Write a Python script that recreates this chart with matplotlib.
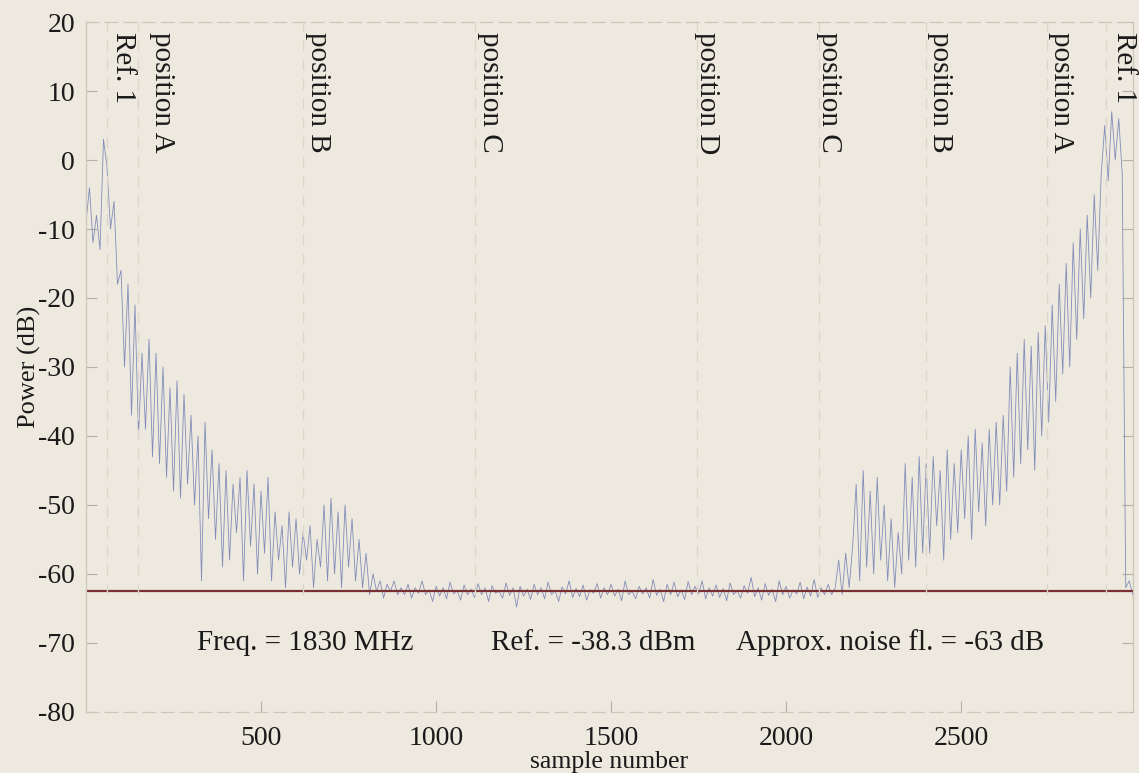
import numpy as np
import matplotlib
matplotlib.use("Agg")
import matplotlib.pyplot as plt

# ---------------- data ----------------
sample_step = 10  # samples between successive readings
power_db = [
    # 0 - 90
    -9, -4, -12, -8, -13, 3, -1, -10, -6, -18,
    # 100 - 190
    -16, -30, -18, -37, -21, -40, -28, -39, -26, -43,
    # 200 - 290
    -28, -44, -30, -46, -33, -48, -32, -49, -34, -47,
    # 300 - 390
    -37, -50, -40, -61, -38, -52, -42, -55, -44, -59,
    # 400 - 490
    -45, -58, -47, -54, -46, -61, -45, -56, -47, -60,
    # 500 - 590
    -48, -57, -46, -61, -51, -58, -53, -62, -51, -59,
    # 600 - 690
    -52, -60, -54, -58, -53, -62, -55, -59, -50, -61,
    # 700 - 790
    -49, -60, -51, -62, -50, -59, -52, -61, -55, -62,
    # 800 - 890
    -57, -63, -60, -62.5, -61, -63.5, -61.5, -62.5, -61, -63,
    # 900 - 990
    -62, -63, -61.5, -63.5, -62, -62.8, -61, -63, -62.3, -64,
    # 1000 - 1090
    -61.8, -63.2, -62, -63.6, -61.2, -62.9, -62.4, -63.8, -61.6, -63,
    # 1100 - 1190
    -62.2, -63.4, -61.4, -63, -62, -64, -61.7, -62.8, -62.5, -63.5,
    # 1200 - 1290
    -61.3, -63.1, -62, -64.8, -61.8, -63.2, -62.2, -63.7, -61.5, -63,
    # 1300 - 1390
    -62, -63.6, -61.2, -63, -62.4, -64, -61.9, -62.9, -61, -63.4,
    # 1400 - 1490
    -62.1, -63.3, -61.6, -63.8, -62.3, -62.8, -61.4, -63.5, -62, -63,
    # 1500 - 1590
    -61.5, -63.2, -62.2, -63.9, -61, -63, -62.5, -63.6, -61.8, -62.9,
    # 1600 - 1690
    -62, -63.5, -60.8, -63.1, -62.2, -64, -61.5, -63, -61.2, -63.3,
    # 1700 - 1790
    -62.3, -63.7, -61.1, -63, -61.8, -62.9, -61, -63.6, -62, -63.2,
    # 1800 - 1890
    -61.6, -63.4, -62.1, -63.9, -61.3, -63, -62.4, -63.5, -61.7, -62.8,
    # 1900 - 1990
    -60.5, -63.3, -62, -63.8, -61.4, -63.1, -62.2, -64, -61, -63,
    # 2000 - 2090
    -61.8, -63.5, -62.3, -62.9, -61.2, -63.6, -61.9, -63.2, -60.8, -63.4,
    # 2100 - 2190
    -62, -63, -61.5, -63, -62, -58, -63, -57, -62, -56,
    # 2200 - 2290
    -47, -61, -45, -59, -48, -60, -46, -58, -50, -61,
    # 2300 - 2390
    -52, -62, -54, -60, -44, -58, -46, -59, -43, -57,
    # 2400 - 2490
    -44, -57, -43, -53, -45, -58, -42, -55, -44, -54,
    # 2500 - 2590
    -42, -52, -40, -55, -39, -51, -41, -53, -39, -50,
    # 2600 - 2690
    -38, -50, -37, -48, -30, -46, -28, -44, -26, -42,
    # 2700 - 2790
    -27, -45, -25, -40, -24, -38, -21, -35, -18, -31,
    # 2800 - 2890
    -15, -30, -12, -26, -10, -23, -8, -20, -5, -16,
    # 2900 - 2990
    -2, 5, -3, 7, 0, 6, -2, -62, -61, -63,
]

noise_floor_db = -62.5

marker_samples = [60, 149, 620, 1110, 1746, 2094, 2400, 2745, 2914]
marker_labels = ["Ref. 1", "position A", "position B", "position C", "position D",
                 "position C", "position B", "position A", "Ref. 1"]
label_samples = [106, 217, 663, 1154, 1774, 2123, 2440, 2786, 2966]

info_texts = ["Freq. = 1830 MHz", "Ref. = -38.3 dBm", "Approx. noise fl. = -63 dB"]
info_samples = [626, 1449, 2297]
info_level = -70

x_ticks = [500, 1000, 1500, 2000, 2500]
y_ticks = [20, 10, 0, -10, -20, -30, -40, -50, -60, -70, -80]

# ---------------- figure ----------------
bg = "#eee9de"
plt.rcParams["font.family"] = ["Liberation Serif", "DejaVu Serif"]
plt.rcParams["axes.unicode_minus"] = False

fig = plt.figure(figsize=(11.39, 7.73), dpi=100, facecolor=bg)
ax = fig.add_axes([0.0755, 0.079, 0.919, 0.8925], facecolor=bg)

samples = np.arange(len(power_db)) * sample_step
ax.plot(samples, power_db, color="#6f7db3", lw=0.6, alpha=0.85)

ax.axhline(noise_floor_db, color="#7a2f33", lw=1.6)

for xs in marker_samples:
    ax.axvline(xs, ymin=0.17, ymax=1.0, color="#dcd6ca", lw=1.0, ls=(0, (8, 6)))

for xs, lab in zip(label_samples, marker_labels):
    ax.text(xs, 18.6, lab, rotation=270, ha="center", va="top",
            fontsize=21, color="#1a1a1a")

for xs, t in zip(info_samples, info_texts):
    ax.text(xs, info_level, t, ha="center", va="center", fontsize=21, color="#1a1a1a")

ax.set_xlim(0, 2990)
ax.set_ylim(-80, 20)
ax.set_xticks(x_ticks)
ax.set_yticks(y_ticks)
ax.tick_params(direction="in", length=8, width=0.8, color="#b5b0a6",
               labelsize=20, labelcolor="#1a1a1a", right=True, top=False)
ax.tick_params(axis="x", pad=10)
ax.tick_params(axis="y", pad=8)

for side in ["left", "bottom", "top", "right"]:
    ax.spines[side].set_color("#cdc7bb")
    ax.spines[side].set_linewidth(0.9)
ax.spines["top"].set_linestyle((0, (10, 5)))
ax.spines["bottom"].set_linestyle((0, (10, 5)))

ax.set_ylabel("Power (dB)", fontsize=19, color="#1a1a1a", labelpad=-2)
ax.set_xlabel("sample number", fontsize=18.5, color="#1a1a1a", labelpad=0)

fig.savefig("out.png", dpi=100, facecolor=bg)
